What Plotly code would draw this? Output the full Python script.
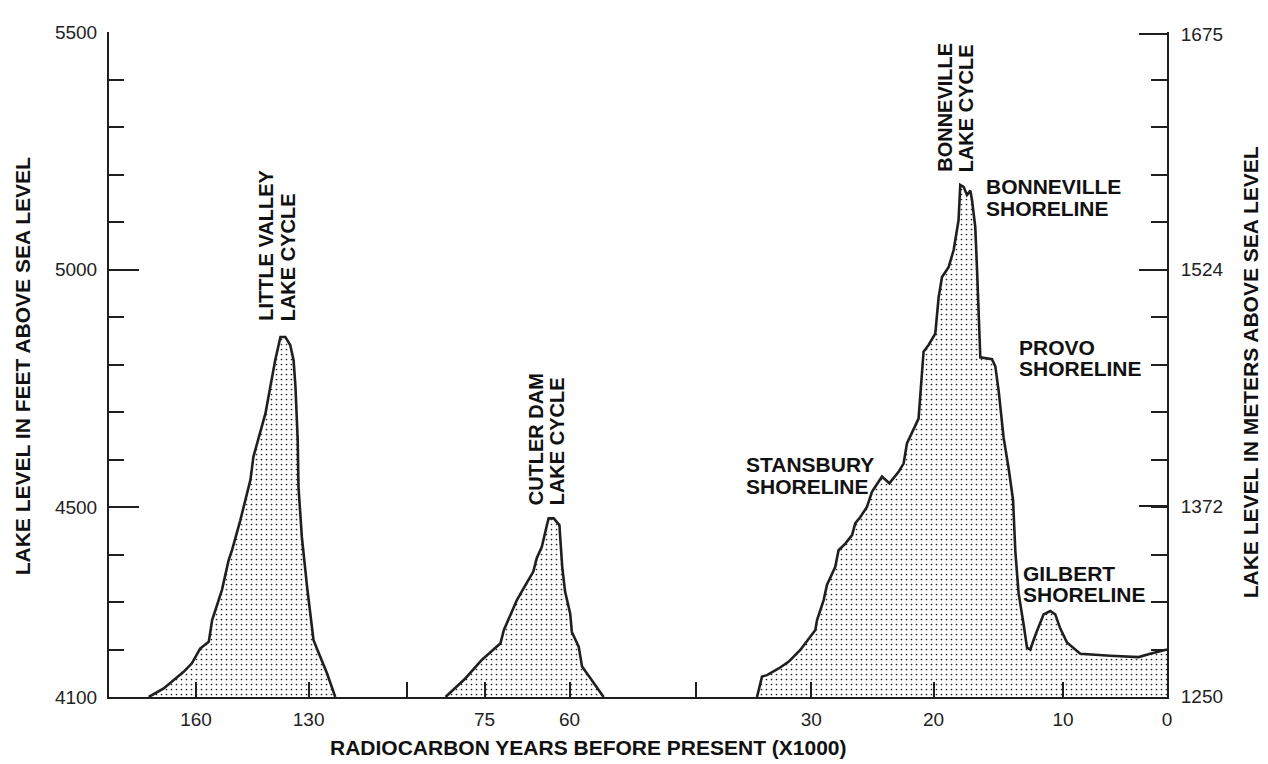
import numpy as np
import plotly.graph_objects as go

# ---------------- data (age in thousands of radiocarbon years BP, lake level in feet) -------------
little_valley_age = [172.6, 168.6, 163.3, 161.1, 158.9, 156.6, 155.7, 153.1, 151.3, 150.4, 148.2,
                     146.4, 145.5, 144.7, 143.3, 141.5, 140.2, 138.9, 137.5, 136.2, 134.9, 134.0,
                     133.5, 132.9, 132.7, 131.8, 130.4, 128.7, 127.8, 125.1, 122.9]
little_valley_ft = [4100, 4118, 4153, 4171, 4202, 4216, 4262, 4325, 4388, 4409, 4472,
                    4529, 4557, 4606, 4648, 4697, 4753, 4809, 4858, 4858, 4841, 4809,
                    4753, 4641, 4543, 4437, 4332, 4220, 4202, 4150, 4100]

cutler_dam_age = [81.9, 78.4, 75.5, 72.2, 71.6, 69.3, 68.1, 66.4, 65.8, 64.9, 64.0,
                  63.7, 62.8, 61.8, 61.3, 60.8, 59.9, 59.6, 58.4, 57.8, 56.3, 54.0]
cutler_dam_ft = [4100, 4139, 4178, 4213, 4241, 4304, 4329, 4364, 4392, 4416, 4462,
                 4476, 4476, 4462, 4374, 4322, 4276, 4237, 4206, 4164, 4139, 4100]

bonneville_age = [34.44, 34.03, 33.62, 32.67, 31.86, 30.90, 29.67, 29.53, 28.99, 28.72, 28.04,
                  27.77, 27.22, 26.67, 26.40, 25.99, 25.45, 25.04, 24.22, 23.62, 22.86, 22.45,
                  22.18, 21.77, 21.23, 20.82, 20.41, 19.87, 19.61, 19.35, 18.84, 18.45, 18.07,
                  17.94, 17.68, 17.42, 17.16, 17.03, 16.78, 16.64, 16.52, 16.39, 15.49, 15.23,
                  14.97, 14.59, 14.20, 13.86, 13.68, 13.43, 13.04, 12.78, 12.53, 12.14, 11.50,
                  10.98, 10.60, 10.21, 9.62, 8.34, 5.45, 2.73, 1.61, 0.0]
bonneville_ft = [4100, 4143, 4146, 4160, 4174, 4199, 4241, 4262, 4304, 4336, 4374,
                 4409, 4423, 4441, 4466, 4479, 4500, 4532, 4564, 4550, 4574, 4592,
                 4634, 4655, 4686, 4827, 4841, 4865, 4942, 4984, 5005, 5041, 5104,
                 5178, 5174, 5157, 5166, 5146, 5089, 4998, 4886, 4815, 4811, 4796,
                 4744, 4646, 4581, 4515, 4405, 4318, 4252, 4204, 4200, 4230, 4274,
                 4281, 4274, 4244, 4215, 4191, 4187, 4184, 4191, 4200]

x_tick_ages = [160, 130, 75, 60, 30, 20, 10, 0]
x_tick_text = ["160", "130", "75", "60", "30", "20", "10", "0"]
ft_major_ticks = [4100, 4500, 5000, 5500]
m_major_ticks = [1250, 1372, 1524, 1675]

# ---------------- broken time axis: each segment maps ages to display positions ----------------
SEGMENTS = {
    "early": ([160, 130], [87.0, 199.6]),
    "middle": ([75, 60], [375.6, 460.6]),
    "late": ([30, 20, 10, 0], [702.3, 824.6, 954.0, 1058.0]),
}
BREAK_POS = [298.0, 587.3]
X_LEN = 1058.0
FT_TO_M = 0.3048


def to_pos(ages, seg):
    a, p = SEGMENTS[seg]
    ar = np.asarray(a, float)[::-1]
    pr = np.asarray(p, float)[::-1]
    ages = np.asarray(ages, float)
    out = np.interp(ages, ar, pr)
    s_lo = (pr[1] - pr[0]) / (ar[1] - ar[0])
    s_hi = (pr[-1] - pr[-2]) / (ar[-1] - ar[-2])
    out = np.where(ages < ar[0], pr[0] + (ages - ar[0]) * s_lo, out)
    out = np.where(ages > ar[-1], pr[-1] + (ages - ar[-1]) * s_hi, out)
    return out


def seg_of(age):
    return "early" if age > 100 else ("middle" if age > 40 else "late")


tick_pos = [float(to_pos([a], seg_of(a))[0]) for a in x_tick_ages]
tickvals = tick_pos + BREAK_POS
ticktext = x_tick_text + ["", ""]

INK = "#1f1f1f"
FONT = "Liberation Sans, Arial, Helvetica, sans-serif"

fig = go.Figure()
for ages, ft, seg in [(little_valley_age, little_valley_ft, "early"),
                      (cutler_dam_age, cutler_dam_ft, "middle"),
                      (bonneville_age, bonneville_ft, "late")]:
    fig.add_trace(go.Scatter(
        x=to_pos(ages, seg), y=ft, mode="lines",
        line=dict(color=INK, width=2.6),
        fill="tozeroy", fillcolor="white",
        fillpattern=dict(shape=".", size=5, solidity=0.09, fgcolor="#222222",
                         bgcolor="white", fgopacity=1),
        showlegend=False, hoverinfo="skip"))

# right (metres) axis carrier
fig.add_trace(go.Scatter(x=[None], y=[None], yaxis="y2", showlegend=False, hoverinfo="skip"))

W, H = 1268, 764
L, R, T, B = 108.7, 1166.7, 32, 697   # plot-area edges in window pixels


def px(xp):
    return (xp - L) / (R - L)


def py(yp):
    return (B - yp) / (B - T)


annots = []
# horizontal labels (text, left x, vertical centre)
for text, x0, yc in [("BONNEVILLE", 985, 186.7), ("SHORELINE", 985, 208),
                     ("PROVO", 1018, 347.5), ("SHORELINE", 1018, 368),
                     ("STANSBURY", 745, 465), ("SHORELINE", 745, 486.5),
                     ("GILBERT", 1022, 573.5), ("SHORELINE", 1022, 594.5)]:
    annots.append(dict(text=text, x=px(x0), y=py(yc), xref="paper", yref="paper",
                       xanchor="left", yanchor="middle", showarrow=False, borderpad=0,
                       font=dict(family=FONT, size=21, color="#111", weight="bold")))
# vertical labels (text, centre x, bottom y)
for text, xc, yb in [("LITTLE VALLEY", 265, 322), ("LAKE CYCLE", 288, 322),
                     ("CUTLER DAM", 536, 506), ("LAKE CYCLE", 557, 506),
                     ("BONNEVILLE", 945, 173), ("LAKE CYCLE", 966, 173)]:
    annots.append(dict(text=text, x=px(xc), y=py(yb), xref="paper", yref="paper",
                       xanchor="center", yanchor="bottom", textangle=-90, showarrow=False,
                       borderpad=0,
                       font=dict(family=FONT, size=20, color="#111", weight="bold")))
# axis titles
title_font = dict(family=FONT, size=21, color="#111", weight="bold")
annots.append(dict(text="LAKE LEVEL IN FEET ABOVE SEA LEVEL", x=px(22), y=py(366),
                   xref="paper", yref="paper", xanchor="center", yanchor="middle",
                   textangle=-90, showarrow=False, font=title_font))
annots.append(dict(text="LAKE LEVEL IN METERS ABOVE SEA LEVEL", x=px(1250), y=py(372),
                   xref="paper", yref="paper", xanchor="center", yanchor="middle",
                   textangle=-90, showarrow=False, font=title_font))
annots.append(dict(text="RADIOCARBON YEARS BEFORE PRESENT (X1000)", x=px(588), y=py(747),
                   xref="paper", yref="paper", xanchor="center", yanchor="middle",
                   showarrow=False, font=title_font))

tickfont = dict(family=FONT, size=19, color="#222")
fig.update_layout(
    width=W, height=H, autosize=False,
    margin=dict(l=L, r=W - R, t=T, b=H - B, pad=0),
    paper_bgcolor="white", plot_bgcolor="white",
    font=dict(family=FONT),
    xaxis=dict(range=[0, X_LEN], tickmode="array", tickvals=tickvals, ticktext=ticktext,
               ticks="inside", ticklen=15, tickwidth=2, tickcolor=INK,
               showline=True, linewidth=2, linecolor=INK, showgrid=False, zeroline=False,
               tickfont=tickfont, ticklabelstandoff=4),
    yaxis=dict(range=[4100, 5500], tickmode="array", tickvals=ft_major_ticks,
               ticks="inside", ticklen=30, tickwidth=2, tickcolor=INK,
               minor=dict(tick0=4100, dtick=100, ticks="inside", ticklen=15, tickwidth=2,
                          tickcolor=INK, showgrid=False),
               showline=True, linewidth=2, linecolor=INK, showgrid=False, zeroline=False,
               tickfont=tickfont, ticklabelstandoff=6),
    yaxis2=dict(overlaying="y", side="right",
                range=[4100 * FT_TO_M, 5500 * FT_TO_M], tickmode="array",
                tickvals=m_major_ticks,
                ticks="inside", ticklen=28, tickwidth=2, tickcolor=INK,
                minor=dict(tick0=4100 * FT_TO_M, dtick=100 * FT_TO_M, ticks="inside",
                           ticklen=16, tickwidth=2, tickcolor=INK, showgrid=False),
                showline=True, linewidth=2, linecolor=INK, showgrid=False, zeroline=False,
                tickfont=tickfont, ticklabelstandoff=8),
    annotations=annots,
)

fig.write_html("out.html", config={"displayModeBar": False},
               post_script="document.body.style.margin='0px';")
